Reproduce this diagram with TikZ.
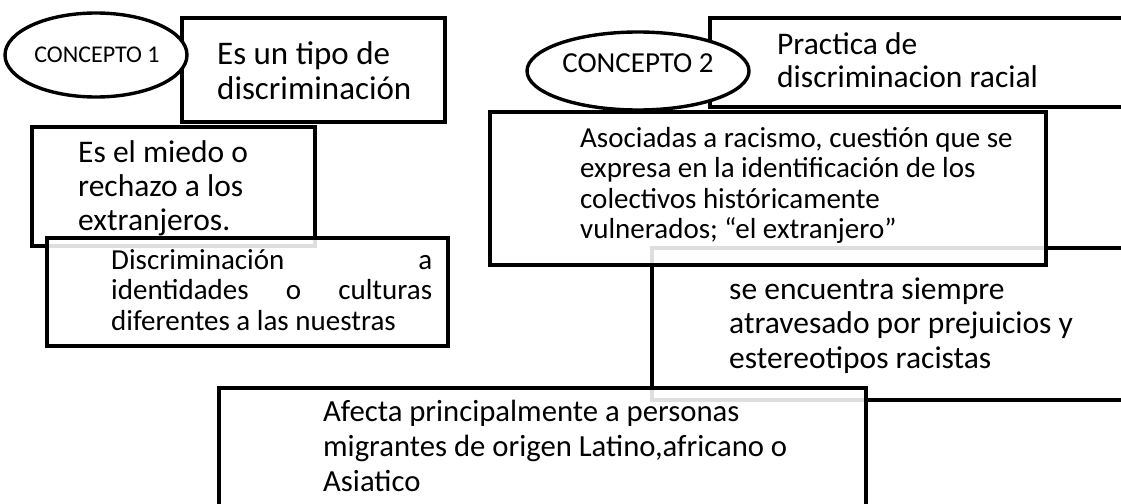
\documentclass[tikz,border=0pt]{standalone}
\usepackage{fontspec}
\setmainfont{Carlito}
\newcommand{\letra}[2]{\fontsize{#1}{#2}\selectfont}
\tikzset{
  marco/.style={line width=3.2pt, fill=white, fill opacity=0.87},
  ovalo/.style={line width=3.4pt, fill=white},
  texto/.style={anchor=base west, inner sep=0pt, text width=560pt, align=flush left},
  rotulo/.style={anchor=base, inner sep=0pt},
}
\begin{document}
\begin{tikzpicture}[x=1pt,y=-1pt]
		\useasboundingbox (0,0) rectangle (1121,503);
		\clip (0,0) rectangle (1121,503);
		% recuadro que queda por debajo
		\draw[marco] (652,248) rectangle (1140,400);
		% concepto 1
		\draw[marco] (182,18) rectangle (445,122);
		\draw[ovalo] (96,55) ellipse [x radius=91, y radius=42];
		\draw[marco] (32,127) rectangle (315,246);
		\draw[marco] (47,238) rectangle (448,346);
		% concepto 2
		\draw[marco] (710,18) rectangle (1140,107);
		\draw[ovalo] (638,71) ellipse [x radius=111, y radius=39];
		\draw[marco] (490,112) rectangle (1046,265);
		\draw[marco] (219,388) rectangle (866,530);
		% textos
		\node[rotulo, font=\letra{24}{28}] (c1) at (97,63) {CONCEPTO 1};
		\node[rotulo, font=\letra{29}{33}] (c2) at (638,72) {CONCEPTO 2};
		\node[texto, font=\letra{33}{35}] (tipo) at (217,65) {Es un tipo de\\discriminación};
		\node[texto, font=\letra{31.5}{34}] (miedo) at (78,162) {Es el miedo o\\rechazo a los\\extranjeros.};
		\node[texto, text width=321pt, align=justify, font=\letra{29}{30.5}] (identidad) at (111,269)
			{\tolerance=10000 \hbadness=10000 Discriminación a\linebreak identidades o culturas\linebreak diferentes a las nuestras};
		\node[texto, font=\letra{31.5}{33}] (practica) at (777,55) {Practica de\\discriminacion racial};
		\node[texto, font=\letra{29}{30.5}] (asociadas) at (580,147) {Asociadas a racismo, cuestión que se\\expresa en la identificación de los\\colectivos históricamente\\vulnerados; “el extranjero”};
		\node[texto, font=\letra{31.5}{34.5}] (prejuicios) at (729,299) {se encuentra siempre\\atravesado por prejuicios y\\estereotipos racistas};
		\node[texto, font=\letra{30.7}{35}] (afecta) at (323,421) {Afecta principalmente a personas\\migrantes de origen Latino,africano o\\Asiatico};
	\end{tikzpicture}
\end{document}
